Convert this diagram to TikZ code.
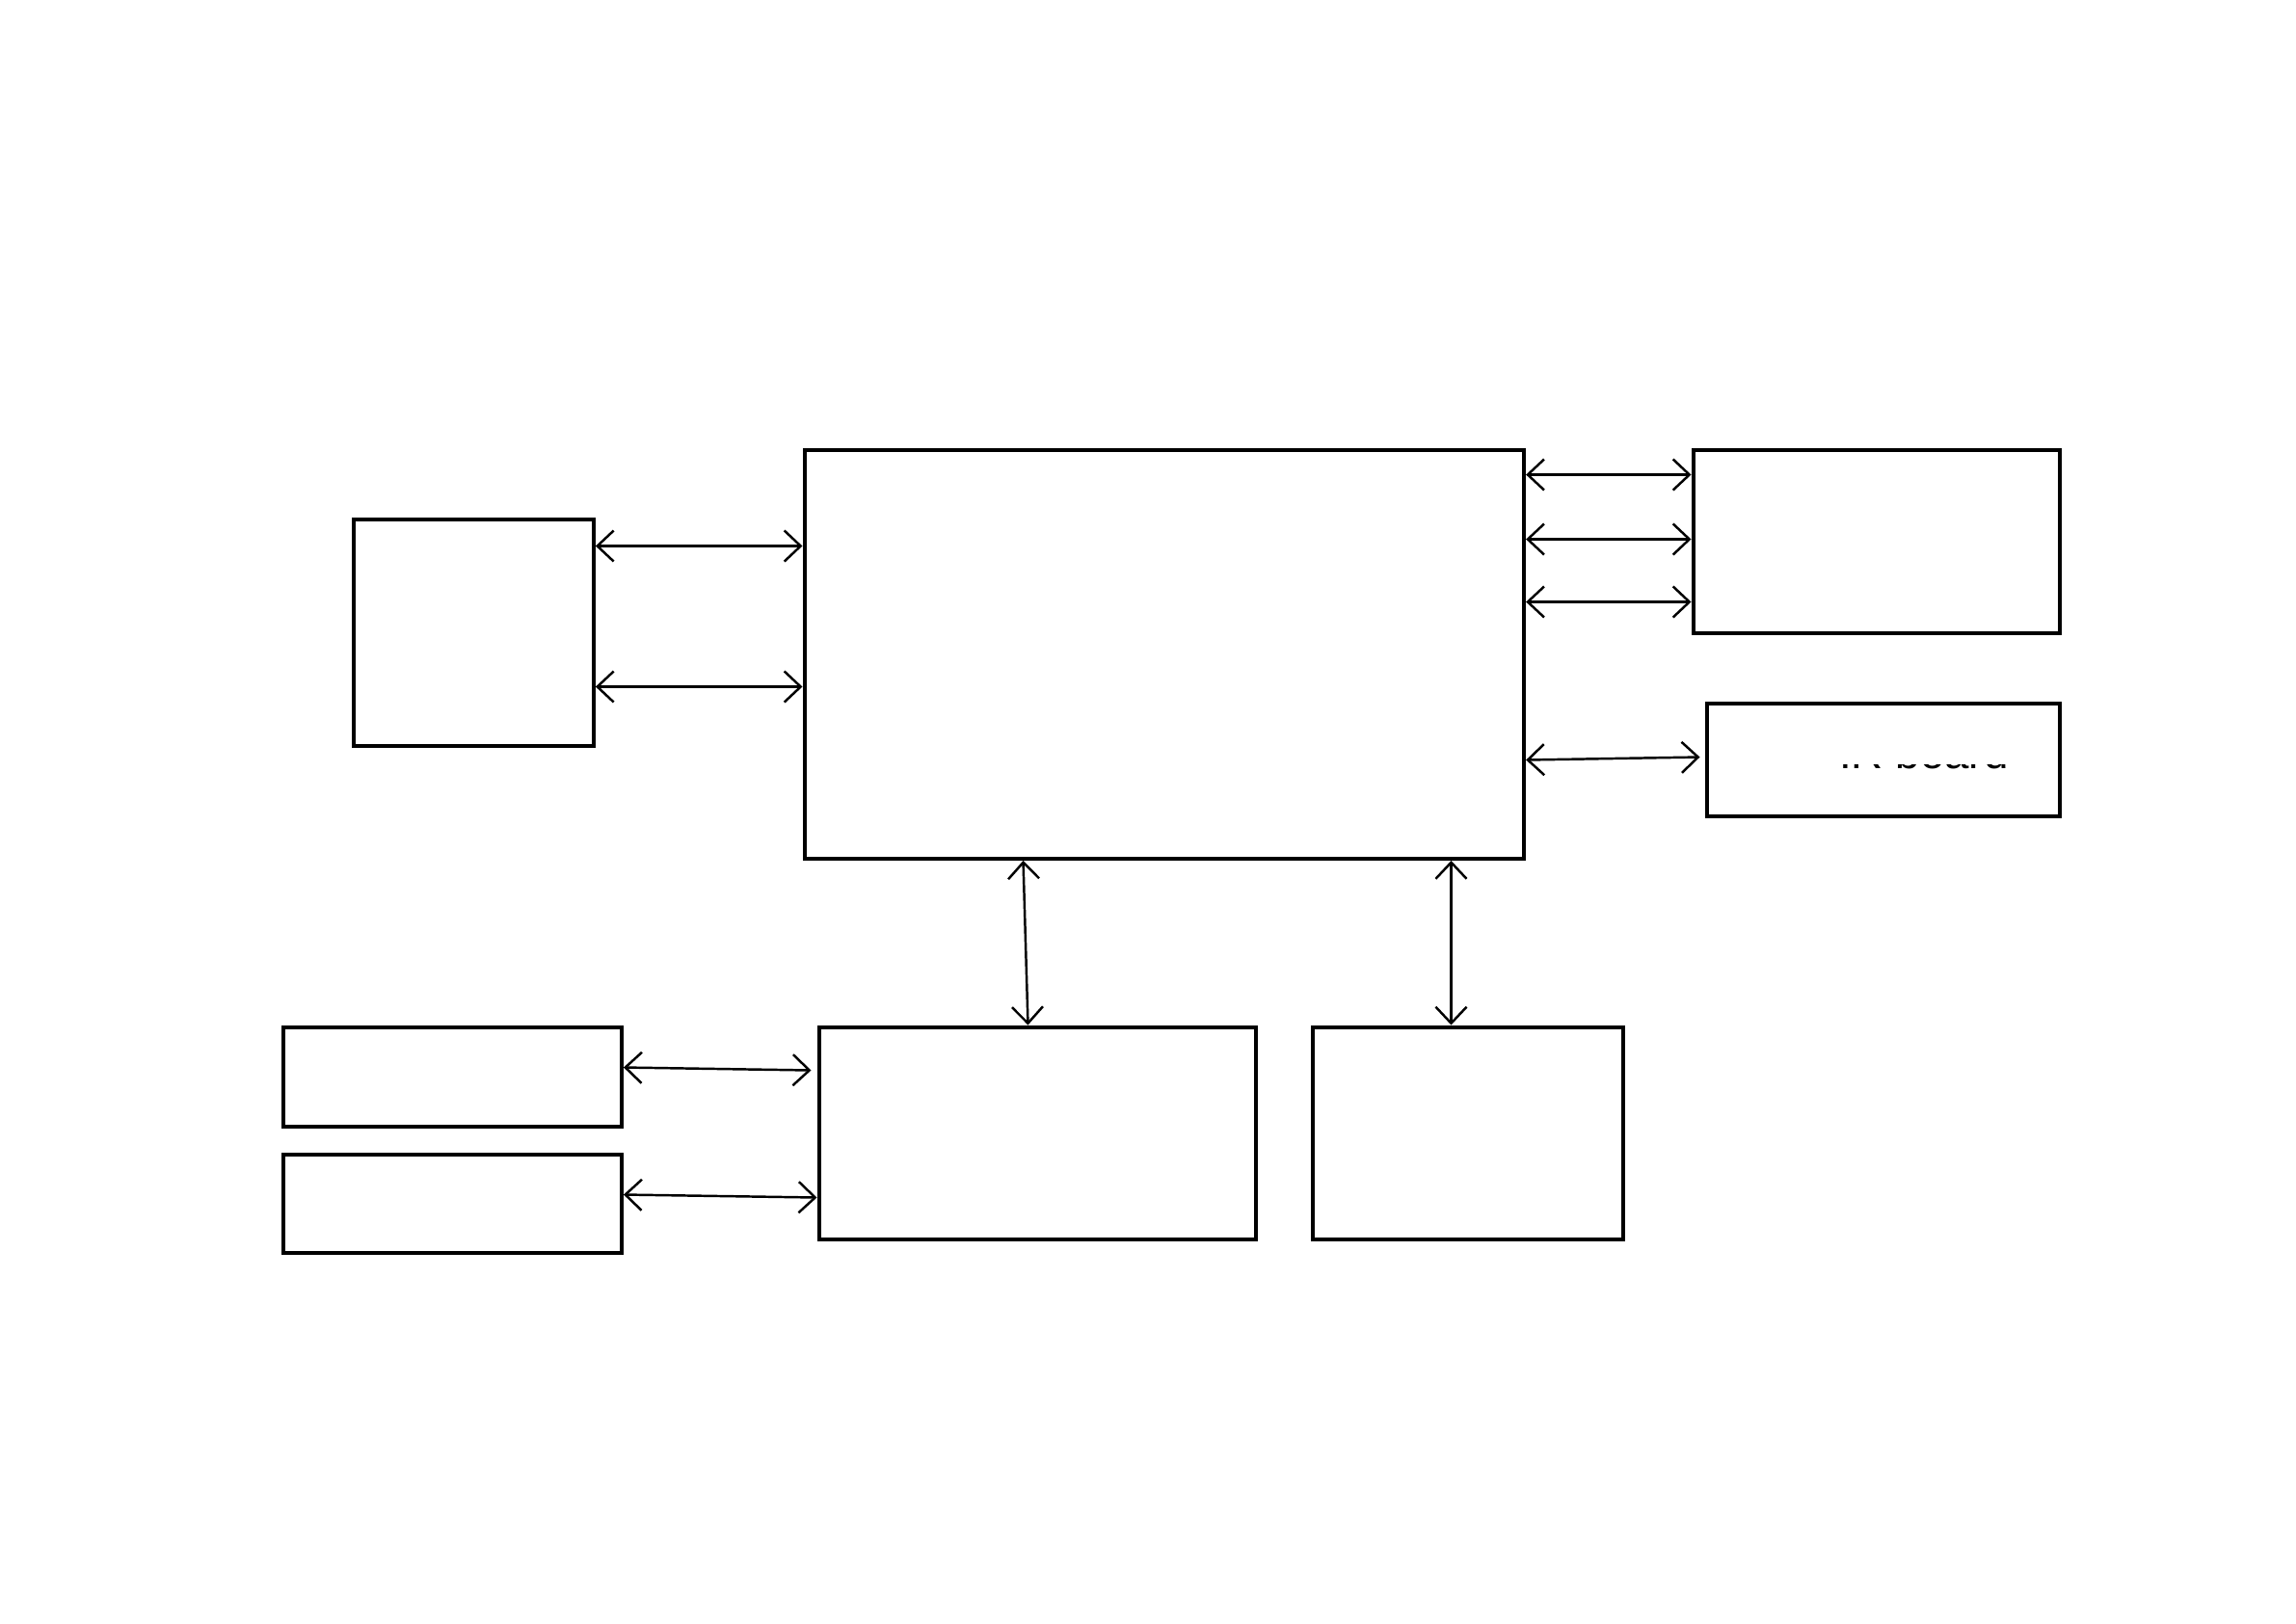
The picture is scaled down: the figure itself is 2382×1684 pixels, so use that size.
\documentclass[tikz,border=0pt]{standalone}
\usepackage{fontspec}
\setmainfont{Liberation Sans}
\usepackage{tikz}
\usetikzlibrary{arrows.meta,positioning,calc}

\begin{document}
\begin{tikzpicture}[x=0.01cm,y=-0.01cm,
          blk/.style={draw=black,line width=1.2pt,inner sep=0pt,
                      anchor=north west,fill=white},
          lnk/.style={black,line width=0.7pt,
                      {Straight Barb[length=1.7mm,width=3.2mm]}-{Straight Barb[length=1.7mm,width=3.2mm]}},
        ]
        \useasboundingbox (0,0) rectangle (2382,1684);
        \begin{scope}[shift={(-1.5,-1.5)}]
        % Blocks
        \node[blk,minimum width=7.46cm,minimum height=4.24cm] (main) at (834,466) {};
        \node[blk,minimum width=2.49cm,minimum height=2.35cm] (lft) at (366,538) {};
        \node[blk,minimum width=3.80cm,minimum height=1.90cm] (trb) at (1756,466) {};
        \node[blk,minimum width=3.66cm,minimum height=1.17cm] (irb) at (1770,729) {};
        \node[blk,minimum width=4.53cm,minimum height=2.20cm] (bmid) at (849,1065) {};
        \node[blk,minimum width=3.22cm,minimum height=2.20cm] (brt) at (1361,1065) {};
        \node[blk,minimum width=3.51cm,minimum height=1.03cm] (bl1) at (293,1065) {};
        \node[blk,minimum width=3.51cm,minimum height=1.02cm] (bl2) at (293,1197) {};
        % Label (only its lower edge shows)
        \begin{scope}
          \clip (1890,795) rectangle (2110,802.5);
          \node[anchor=base west,inner sep=0pt,font=\fontsize{13}{15}\selectfont]
            (irtxt) at (1909,798.5) {IR board};
        \end{scope}
        % Links
        \draw[lnk] ($(lft.north east)+(0,30)$) -- ($(main.north west)+(0,102)$);
        \draw[lnk] ($(lft.north east)+(0,176)$) -- ($(main.north west)+(0,248)$);
        \foreach \dy in {28,95,160}{
          \draw[lnk] ($(main.north east)+(0,\dy)$) -- ($(trb.north west)+(0,\dy)$);
        }
        \draw[lnk] ($(main.north east)+(0,324)$) -- ($(irb.north west)+(-5,58)$);
        \draw[lnk] ($(main.south west)+(229,0)$) -- ($(bmid.north west)+(219,0)$);
        \draw[lnk] ($(main.south west)+(673,0)$) -- ($(brt.north west)+(146,0)$);
        \draw[lnk] ($(bl1.north east)+(0,44)$) -- ($(bmid.north west)+(-6,47)$);
        \draw[lnk] ($(bl2.north east)+(0,44)$) -- ($(bmid.north west)+(0,179)$);
        \end{scope}
      \end{tikzpicture}
\end{document}
